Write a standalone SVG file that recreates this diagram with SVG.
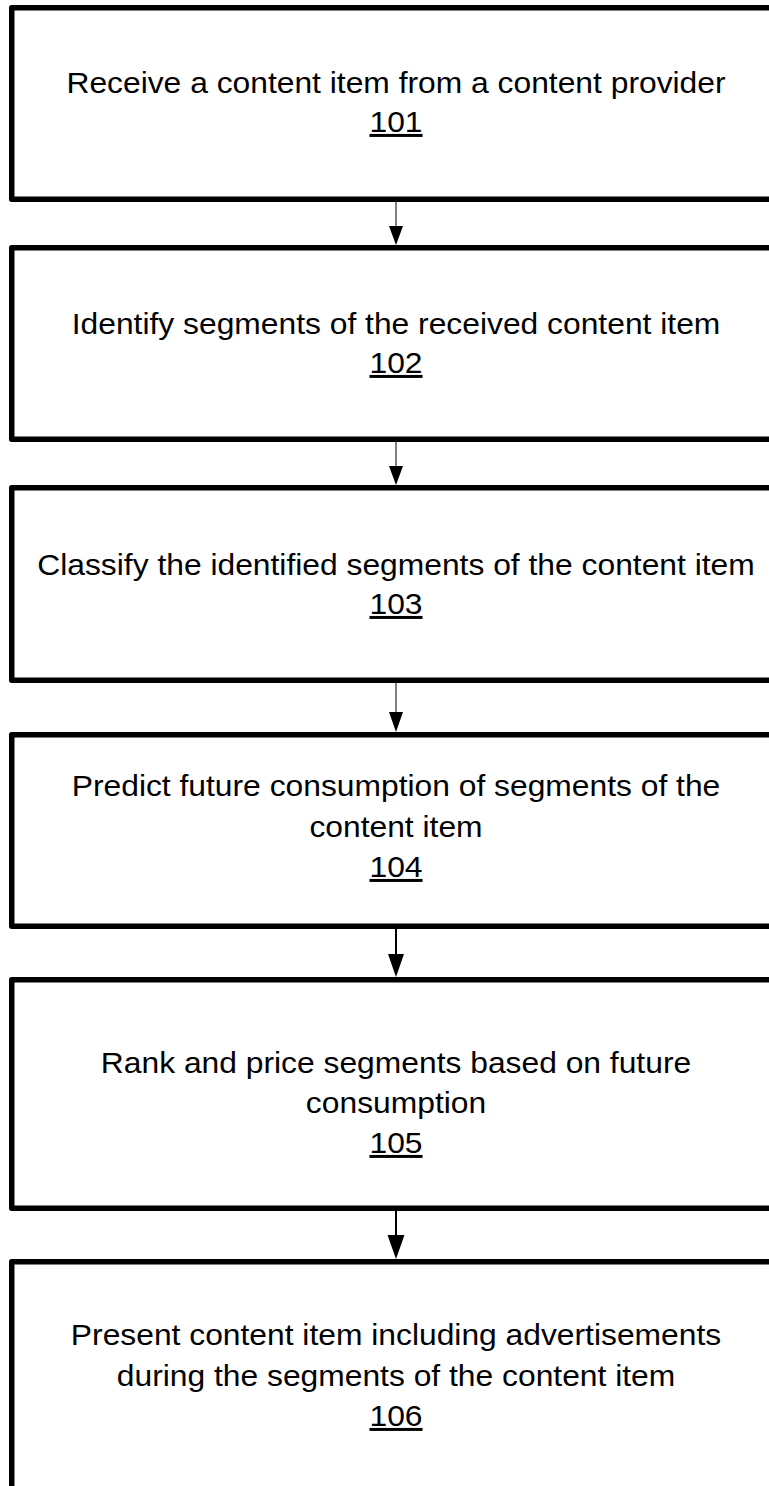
<svg xmlns="http://www.w3.org/2000/svg" width="769" height="1486" viewBox="0 0 769 1486">
<style>
.box{fill:#fff;stroke:#000;stroke-width:5.5;stroke-linejoin:round}
.t{font-family:"Liberation Sans",Arial,sans-serif;font-size:30px;fill:#000;text-anchor:middle}
.u{text-decoration:underline}
.thin{stroke:#000;stroke-width:1}
.thick{stroke:#000;stroke-width:2}
</style>
<rect width="769" height="1486" fill="#fff"/>
<g id="n101">
<rect class="box" x="11.75" y="7.75" width="800" height="191.5"/>
<g transform="scale(1.06,1)"><text class="t" x="373.6" y="93">Receive a content item from a content provider</text><text class="t u" x="373.6" y="132">101</text></g>
</g>
<g id="n102">
<rect class="box" x="11.75" y="247.75" width="800" height="191.5"/>
<g transform="scale(1.06,1)"><text class="t" x="373.6" y="334">Identify segments of the received content item</text><text class="t u" x="373.6" y="373">102</text></g>
</g>
<g id="n103">
<rect class="box" x="11.75" y="487.75" width="800" height="192.5"/>
<g transform="scale(1.06,1)"><text class="t" x="373.6" y="575">Classify the identified segments of the content item</text><text class="t u" x="373.6" y="614">103</text></g>
</g>
<g id="n104">
<rect class="box" x="11.75" y="734.75" width="800" height="191.5"/>
<g transform="scale(1.06,1)"><text class="t" x="373.6" y="796">Predict future consumption of segments of the</text><text class="t" x="373.6" y="837">content item</text><text class="t u" x="373.6" y="877">104</text></g>
</g>
<g id="n105">
<rect class="box" x="11.75" y="979.75" width="800" height="228.5"/>
<g transform="scale(1.06,1)"><text class="t" x="373.6" y="1073">Rank and price segments based on future</text><text class="t" x="373.6" y="1113">consumption</text><text class="t u" x="373.6" y="1153">105</text></g>
</g>
<g id="n106">
<rect class="box" x="11.75" y="1261.75" width="800" height="300"/>
<g transform="scale(1.06,1)"><text class="t" x="373.6" y="1345">Present content item including advertisements</text><text class="t" x="373.6" y="1386">during the segments of the content item</text><text class="t u" x="373.6" y="1426">106</text></g>
</g>
<g id="connectors">
<line class="thin" x1="396" y1="202" x2="396" y2="228"/>
<polygon points="389,226 403,226 396,245"/>
<line class="thin" x1="396" y1="442" x2="396" y2="468"/>
<polygon points="389,466 403,466 396,485"/>
<line class="thin" x1="396" y1="683" x2="396" y2="714"/>
<polygon points="389,712 403,712 396,732"/>
<line class="thick" x1="396" y1="929" x2="396" y2="956"/>
<polygon points="388,954 404,954 396,977"/>
<line class="thick" x1="396" y1="1211" x2="396" y2="1237"/>
<polygon points="387.5,1235 404.5,1235 396,1259"/>
</g>
</svg>
